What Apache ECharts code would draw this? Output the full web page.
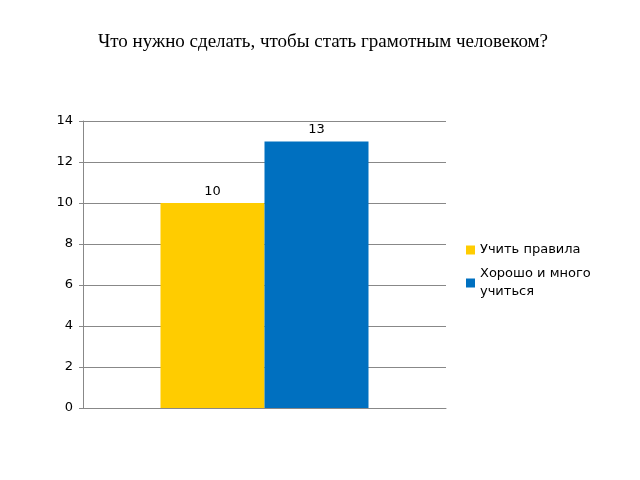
<!DOCTYPE html>
<html><head><meta charset="utf-8">
<script src="https://cdn.jsdelivr.net/npm/echarts@6/dist/echarts.min.js"></script>
<style>html,body{margin:0;padding:0;background:#fff}#c{width:640px;height:480px}</style>
</head><body><div id="c"></div>
<script>
const categories = [''];
const seriesNames = ['Учить правила', 'Хорошо и много учиться'];
const valuesA = [10];
const valuesB = [13];
const colors = ['#FFCC00', '#0070C0'];
const chart = echarts.init(document.getElementById('c'));
const lbl = {show:true, position:'top', color:'#000', fontFamily:'DejaVu Sans', fontSize:13};
chart.setOption({
  animation:false,
  title:{text:'Что нужно сделать, чтобы стать грамотным человеком?', left:318, top:28, textAlign:'center',
    textStyle:{fontFamily:'Liberation Serif', fontWeight:'normal', fontSize:19, color:'#000'}},
  legend:{orient:'vertical', left:461, top:236, itemWidth:9, itemHeight:9, itemGap:6, icon:'rect',
    textStyle:{fontFamily:'DejaVu Sans', fontSize:13, color:'#000', lineHeight:18},
    formatter: n => n === 'Хорошо и много учиться' ? 'Хорошо и много\nучиться' : n},
  grid:{left:83, right:194, top:121, bottom:72},
  xAxis:{type:'category', data:categories, axisLine:{lineStyle:{color:'#888'}}, axisTick:{show:false}, axisLabel:{show:false}},
  yAxis:{type:'value', min:0, max:14, interval:2,
    axisLine:{show:true, lineStyle:{color:'#888'}}, axisTick:{show:true, length:4, lineStyle:{color:'#888'}},
    axisLabel:{fontFamily:'DejaVu Sans', fontSize:13, color:'#000', margin:10},
    splitLine:{lineStyle:{color:'#888'}}},
  series:[
    {name:seriesNames[0], type:'bar', data:valuesA, itemStyle:{color:colors[0]}, barWidth:104, barGap:'0%', label:lbl},
    {name:seriesNames[1], type:'bar', data:valuesB, itemStyle:{color:colors[1]}, barWidth:104, barGap:'0%', label:lbl}
  ]
});
</script></body></html>
